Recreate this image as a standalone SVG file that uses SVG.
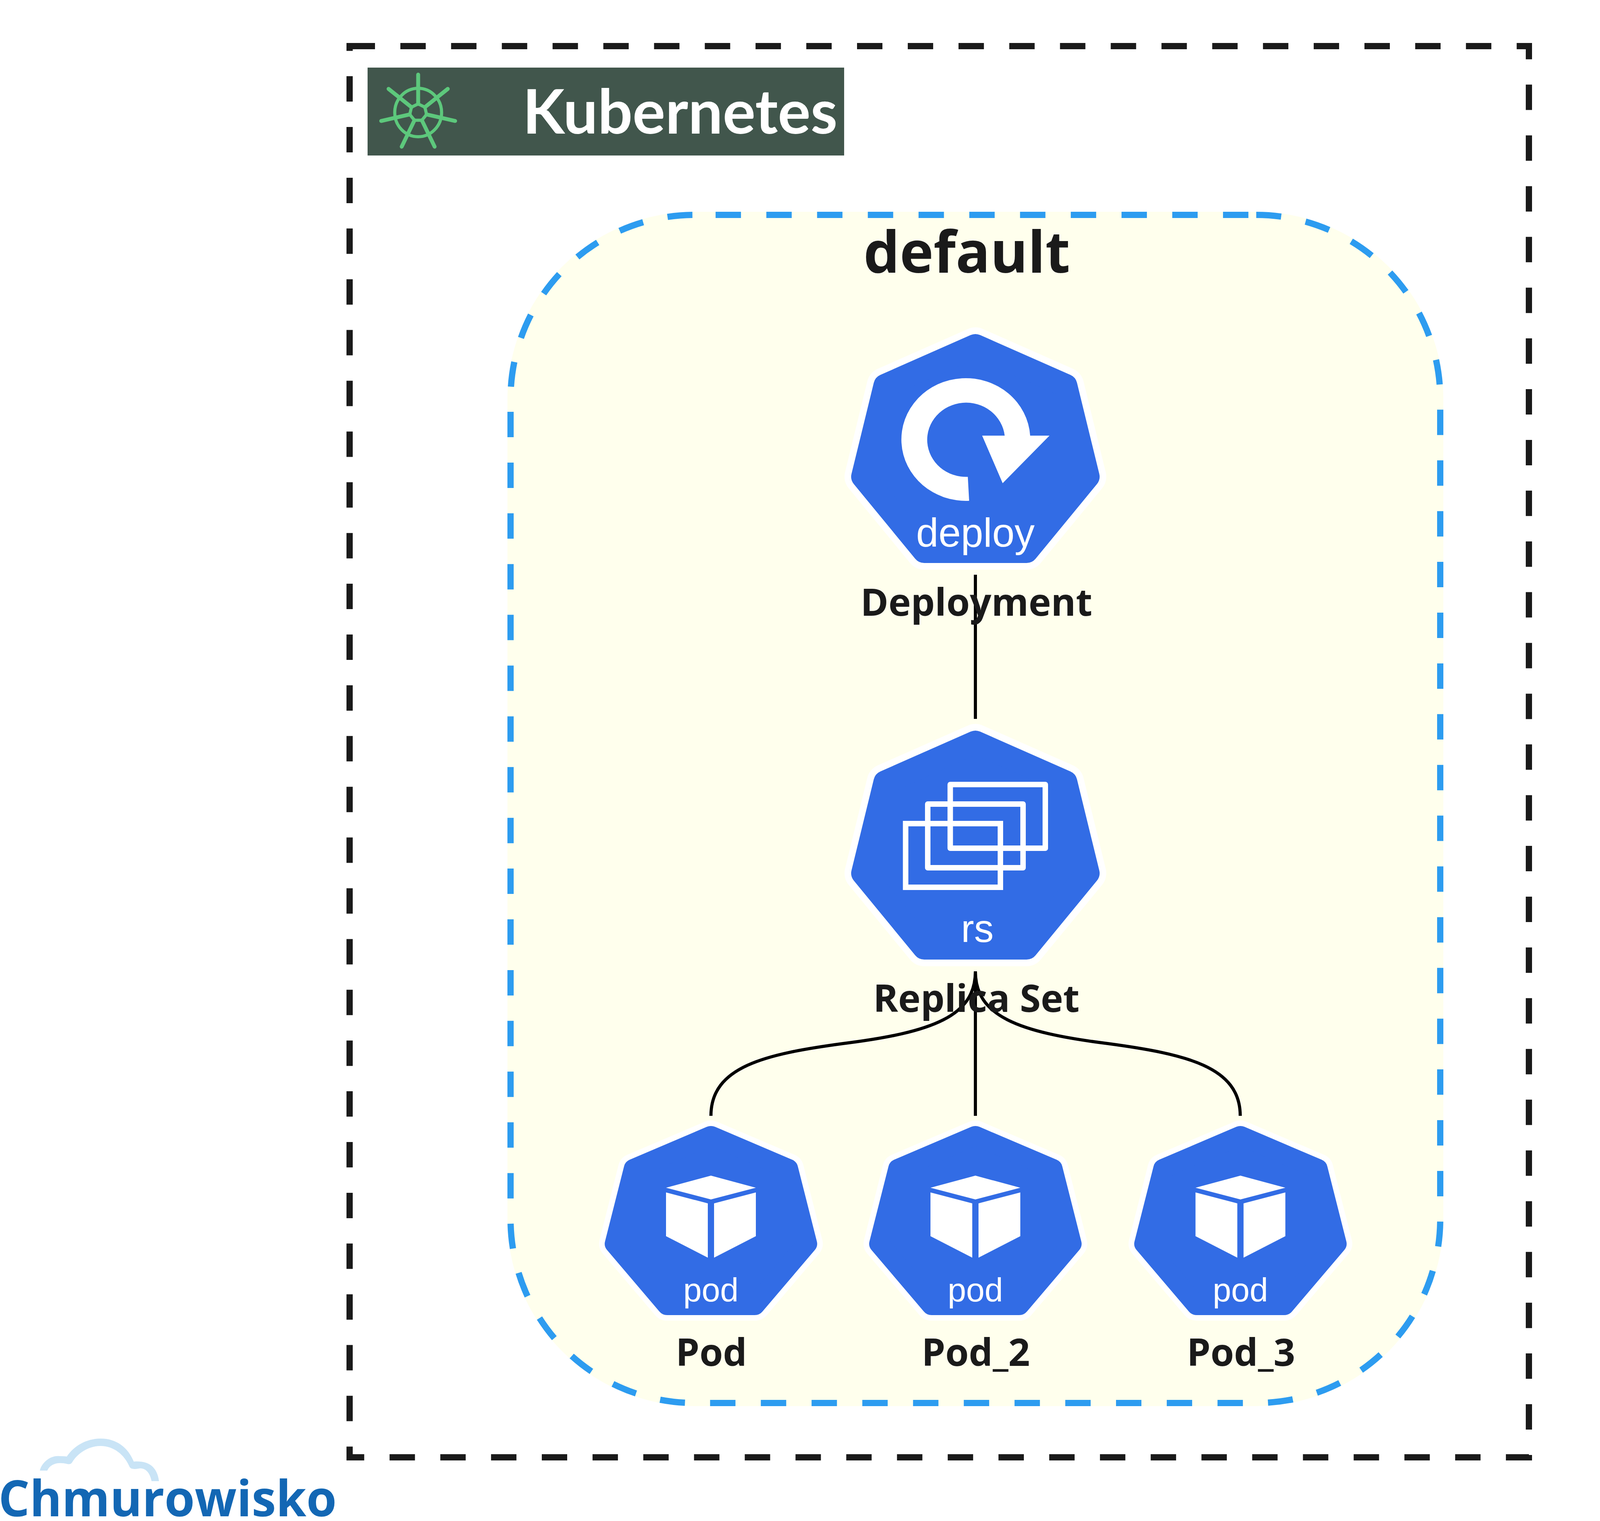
<svg xmlns="http://www.w3.org/2000/svg" width="4109" height="3893" viewBox="0 0 4109 3893">
<style>
.hep-halo{fill:#fff;stroke:#fff;stroke-width:94;stroke-linejoin:round}
.hep{fill:#326ce5;stroke:#326ce5;stroke-width:60;stroke-linejoin:round}
.ico{fill:#fff}
.abbr{font-family:"Liberation Sans",Arial,sans-serif;fill:#fff;text-anchor:middle}
.lbl{font-family:"Open Sans","Noto Sans",sans-serif;font-weight:700;font-size:97px;fill:#1a1a1a;text-anchor:middle}
.conn{fill:none;stroke:#000;stroke-width:8}
.rsbox{fill:none;stroke:#fff;stroke-width:14}
.ns{fill:none;stroke:#2d9cf0;stroke-width:16;stroke-dasharray:65 64.9}
</style>
<defs>
<polygon id="hept" points="0,30 231,132 288,365 131,556 -131,556 -288,365 -231,132"/>
<g id="cube">
<polygon points="0,0 115,31 0,61 -115,31"/>
<polygon points="-115,43 -8,71 -8,210 -115,155"/>
<polygon points="115,43 8,71 8,210 115,155"/>
</g>
</defs>
<rect width="4109" height="3893" fill="#fff"/>
<g id="cluster">
<path d="M895,118 H3914 V3730 H895 Z" fill="none" stroke="#1a1a1a" stroke-width="16" stroke-dasharray="65 64.9"/>
</g>
<g id="logo-kubernetes">
<rect x="941" y="173" width="1220" height="225" fill="#41564c"/>
<g fill="none" stroke="#5dc87c">
<ellipse cx="1070.5" cy="288" rx="60" ry="62" stroke-width="8"/>
<polygon points="1070.5,266 1087.7,274.3 1092,292.9 1080,307.8 1061,307.8 1049,292.9 1053.3,274.3" stroke-width="8"/>
<path d="M1070.5,266V191M1087.7,274.3L1146.3,227.5M1092,292.9L1165.1,309.6M1080,307.8L1112.6,375.4M1061,307.8L1028.4,375.4M1049,292.9L975.9,309.6M1053.3,274.3L994.7,227.5" stroke-width="10" stroke-linecap="round"/>
</g>
<text x="1338" y="342" font-family="Lato,sans-serif" font-weight="700" font-size="158" fill="#fff" textLength="806" lengthAdjust="spacingAndGlyphs">Kubernetes</text>
</g>
<g id="namespace">
<rect x="1307" y="550" width="2380" height="3041" rx="471" ry="471" fill="#ffffed" stroke="#ffffed" stroke-width="16"/>
<path class="ns" pathLength="752" d="M3216,550 A471,471 0 0 1 3687,1021"/>
<path class="ns" stroke-dashoffset="102.5" d="M3687,1021 V3120"/>
<path class="ns" pathLength="752" stroke-dashoffset="123.1" d="M3687,3120 A471,471 0 0 1 3216,3591"/>
<path class="ns" stroke-dashoffset="95.7" d="M3216,3591 H1778"/>
<path class="ns" pathLength="752" stroke-dashoffset="104.8" d="M1778,3591 A471,471 0 0 1 1307,3120"/>
<path class="ns" stroke-dashoffset="77.4" d="M1307,3120 V1021"/>
<path class="ns" pathLength="752" stroke-dashoffset="98" d="M1307,1021 A471,471 0 0 1 1778,550"/>
<path class="ns" stroke-dashoffset="76" d="M1778,550 H3216"/>
<text x="2475" y="698" font-family="'Open Sans','Noto Sans',sans-serif" font-weight="700" font-size="146.5" fill="#1a1a1a" text-anchor="middle">default</text>
</g>
<g id="connectors">
<path class="conn" d="M2497,1471 V1840"/>
<path class="conn" d="M2497,2486 V2856"/>
<path class="conn" d="M2497,2486 C2497,2600 2390,2642 2158,2671 C1958,2698 1820,2730 1820,2856"/>
<path class="conn" d="M2497,2486 C2497,2600 2604,2642 2836,2671 C3036,2698 3175,2730 3175,2856"/>
</g>
<g id="node-deployment">
<g transform="translate(2497,855)"><use href="#hept" class="hep-halo"/><use href="#hept" class="hep"/></g>
<path class="ico" d="M2572,1115 A99.5,95 0 1 0 2477.6,1220.5 L2481,1281.7 A165,157 0 1 1 2637.2,1115 H2686.7 L2566.8,1236.8 L2514.3,1115 Z"/>
<text class="abbr" x="2497" y="1399" font-size="103">deploy</text>
<text class="lbl" x="2499.5" y="1576">Deployment</text>
</g>
<g id="node-replicaset">
<g transform="translate(2497,1870)"><use href="#hept" class="hep-halo"/><use href="#hept" class="hep"/></g>
<rect class="rsbox" x="2432.6" y="2008" width="243.4" height="163" stroke-linejoin="round"/>
<rect class="rsbox" x="2375" y="2058" width="244" height="163" stroke-linejoin="round"/>
<rect class="rsbox" x="2318.4" y="2108" width="242.6" height="163"/>
<text class="abbr" x="2502" y="2411" font-size="100">rs</text>
<text class="lbl" x="2499.5" y="2590">Replica Set</text>
</g>
<g id="node-pod">
<g transform="translate(1820,2882) scale(.855,.826)"><use href="#hept" class="hep-halo"/><use href="#hept" class="hep"/></g>
<use href="#cube" class="ico" x="1820" y="3009"/>
<text class="abbr" x="1820" y="3331" font-size="85">pod</text>
<text class="lbl" x="1821" y="3496">Pod</text>
</g>
<g id="node-pod-2">
<g transform="translate(2497,2882) scale(.855,.826)"><use href="#hept" class="hep-halo"/><use href="#hept" class="hep"/></g>
<use href="#cube" class="ico" x="2497" y="3009"/>
<text class="abbr" x="2497" y="3331" font-size="85">pod</text>
<text class="lbl" x="2498" y="3496">Pod_2</text>
</g>
<g id="node-pod-3">
<g transform="translate(3175.5,2882) scale(.855,.826)"><use href="#hept" class="hep-halo"/><use href="#hept" class="hep"/></g>
<use href="#cube" class="ico" x="3175.5" y="3009"/>
<text class="abbr" x="3175.5" y="3331" font-size="85">pod</text>
<text class="lbl" x="3177" y="3496">Pod_3</text>
</g>
<g id="logo-chmurowisko">
<path fill="#c9e4f6" d="M102,3764 C106,3745 128,3724 153,3727 Q164,3727 171,3728 C190,3700 222,3682 258,3682 C298,3682 328,3705 342.5,3741 C375,3738 402,3750 407,3791 L388,3791 C384,3770 372,3755 354,3759 Q336,3762 332,3755 C318,3722 290,3701 258,3701 C226,3701 198,3720 184,3744 Q180,3749 172,3747 C150,3742 130,3745 121,3764 Z"/>
<text x="-4" y="3881" font-family="'Open Sans','Noto Sans',sans-serif" font-weight="700" font-size="127" fill="#1367b4" textLength="866" lengthAdjust="spacingAndGlyphs">Chmurowisko</text>
</g>
</svg>
